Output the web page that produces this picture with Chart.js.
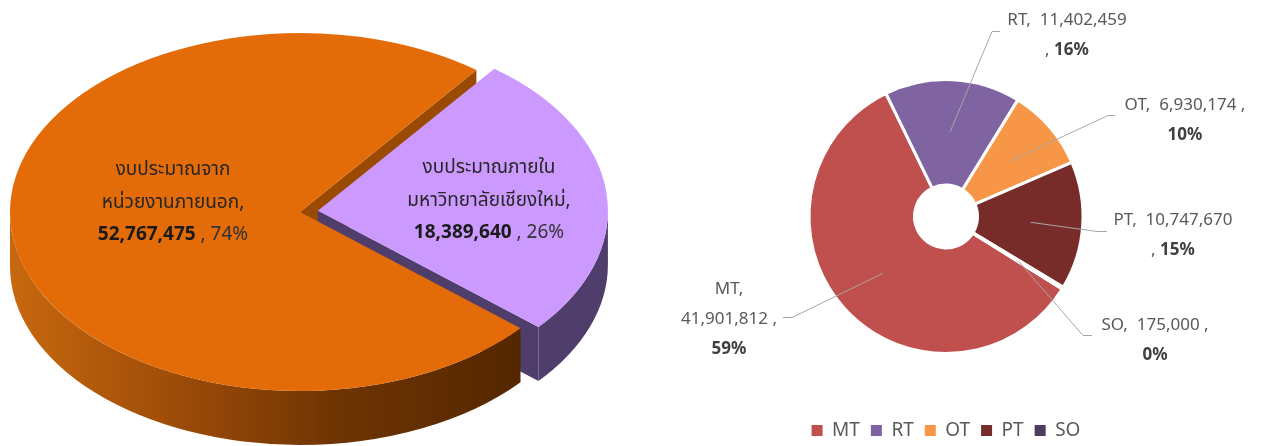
<!DOCTYPE html>
<html>
<head>
<meta charset="utf-8">
<script src="https://cdn.jsdelivr.net/npm/chart.js@4.4.1/dist/chart.umd.min.js"></script>
<style>
    html, body { margin: 0; padding: 0; background: #fff; }
    body { width: 1264px; height: 446px; position: relative; overflow: hidden; }
    #leftBox { position: absolute; left: 0; top: 0; width: 640px; height: 446px; }
    #rightBox { position: absolute; left: 640px; top: 0; width: 624px; height: 450px; }
</style>
</head>
<body>
<div id="leftBox"><canvas id="pieCanvas"></canvas></div>
<div id="rightBox"><canvas id="donutCanvas"></canvas></div>
<script>
//------------------------------------------Datos------------------------------------------------------------------

const budgetNames = [['งบประมาณจาก', 'หน่วยงานภายนอก'], ['งบประมาณภายใน', 'มหาวิทยาลัยเชียงใหม่']];
const budgetValues = [52767475, 18389640];
const budgetColors = ['#E36C09', '#CC99FF'];

const typeNames = ['MT', 'RT', 'OT', 'PT', 'SO'];
const typeValues = [41901812, 11402459, 6930174, 10747670, 175000];
const typeColors = ['#C0504D', '#8064A2', '#F79646', '#772C2A', '#4D3B62'];

//------------------------------------------Estilos------------------------------------------------------------------

const THAI_FONT = '"Noto Sans Thai", "Leelawadee UI", Tahoma, "Noto Sans", "DejaVu Sans", sans-serif';
const UI_FONT = '"Noto Sans", "Open Sans", sans-serif';

const TILT = 0.617;      // vertical squash of the 3d pie
const DEPTH = 54;        // height of the pie side in px
const wallColors = ['#9A4A02', '#4F3D6B'];
const budgetLabelPos = [{x: 173, y: 204}, {x: 489, y: 202}];

// label box of the doughnut, relative to center: text center, elbow, end of leader
const typeLabelPos = [
    {text: [-217, 103], elbow: [-154, 101], end: [-163, 101], mode: 'n|v|p'},
    {text: [121, -181], elbow: [46, -185], end: [54, -185], mode: 'nv|cp'},
    {text: [239, -96], elbow: [162, -101], end: [169, -101], mode: 'nvc|p'},
    {text: [227, 19], elbow: [151, 15], end: [161, 15], mode: 'nv|cp'},
    {text: [209, 124], elbow: [137, 119], end: [146, 119], mode: 'nvc|p'}
];

//------------------------------------------Funciones------------------------------------------------------------------

function fmt(n) {
    return n.toLocaleString('en-US');
}

function pct(values, i) {
    let total = values.reduce((a, b) => a + b, 0);
    return Math.round(values[i] / total * 100) + '%';
}

function squash(ctx, cx, cy) {
    ctx.translate(cx, cy);
    ctx.scale(1, TILT);
    ctx.translate(-cx, -cy);
}

function arcShift(arc) {
    let off = (arc.options.offset || 0) / 4;
    let mid = (arc.startAngle + arc.endAngle) / 2;
    return {x: Math.cos(mid) * off, y: Math.sin(mid) * off};
}

// parts of [a1,a2] that face the viewer (0..PI)
function frontRanges(a1, a2) {
    let out = [];
    for (let n = -2; n <= 2; n++) {
        let s = Math.max(a1, n * 2 * Math.PI);
        let e = Math.min(a2, n * 2 * Math.PI + Math.PI);
        if (e > s) out.push([s, e]);
    }
    return out;
}

// draw a line made of pieces, centered at x
function drawPieces(ctx, pieces, x, y, size, family) {
    let widths = pieces.map(p => {
        ctx.font = (p.bold ? 'bold ' : '') + size + 'px ' + family;
        return ctx.measureText(p.t).width;
    });
    let total = widths.reduce((a, b) => a + b, 0);
    let cx = x - total / 2;
    ctx.textAlign = 'left';
    ctx.textBaseline = 'middle';
    pieces.forEach((p, i) => {
        ctx.font = (p.bold ? 'bold ' : '') + size + 'px ' + family;
        ctx.fillStyle = p.color;
        ctx.fillText(p.t, cx, y);
        cx += widths[i];
    });
}

const pie3dPlugin = {
    id: 'pie3d',
    beforeDatasetsDraw(chart) {
        let ctx = chart.ctx;
        let arcs = chart.getDatasetMeta(0).data;
        let d = DEPTH / TILT;
        let cx = arcs[0].x, cy = arcs[0].y;
        ctx.save();
        squash(ctx, cx, cy);
        // cut faces first
        arcs.forEach((arc, i) => {
            let sh = arcShift(arc);
            let r = arc.outerRadius;
            [[arc.startAngle, -1], [arc.endAngle, 1]].forEach(([a, side]) => {
                if (side * Math.cos(a) <= 0) return;
                let x0 = arc.x + sh.x, y0 = arc.y + sh.y;
                let x1 = x0 + Math.cos(a) * r, y1 = y0 + Math.sin(a) * r;
                ctx.beginPath();
                ctx.moveTo(x0, y0);
                ctx.lineTo(x1, y1);
                ctx.lineTo(x1, y1 + d);
                ctx.lineTo(x0, y0 + d);
                ctx.closePath();
                ctx.fillStyle = wallColors[i];
                ctx.fill();
            });
        });
        // round side, purple first so orange sits in front
        for (let i = arcs.length - 1; i >= 0; i--) {
            let arc = arcs[i];
            let sh = arcShift(arc);
            let r = arc.outerRadius;
            let x0 = arc.x + sh.x, y0 = arc.y + sh.y;
            let fill = wallColors[i];
            if (i === 0) {
                fill = ctx.createLinearGradient(x0 - r, 0, x0 + r * 0.75, 0);
                fill.addColorStop(0, '#C8680E');
                fill.addColorStop(0.35, '#9A4A08');
                fill.addColorStop(0.65, '#6E3403');
                fill.addColorStop(1, '#552700');
            }
            frontRanges(arc.startAngle, arc.endAngle).forEach(([s, e]) => {
                ctx.beginPath();
                ctx.arc(x0, y0, r, s, e);
                ctx.lineTo(x0 + Math.cos(e) * r, y0 + Math.sin(e) * r + d);
                ctx.arc(x0, y0 + d, r, e, s, true);
                ctx.closePath();
                ctx.fillStyle = fill;
                ctx.fill();
            });
        }
        ctx.restore();
        // keep the squash for the top faces drawn by Chart.js
        ctx.save();
        squash(ctx, cx, cy);
    },
    afterDatasetsDraw(chart) {
        let ctx = chart.ctx;
        ctx.restore();
        ctx.save();
        budgetNames.forEach((name, i) => {
            let p = budgetLabelPos[i];
            drawPieces(ctx, [{t: name[0], color: '#262626'}], p.x, p.y - 33, 19, THAI_FONT);
            drawPieces(ctx, [{t: name[1] + ',', color: '#262626'}], p.x, p.y, 19, THAI_FONT);
            drawPieces(ctx, [
                {t: fmt(budgetValues[i]), bold: true, color: '#1a1a1a'},
                {t: ' , ' + pct(budgetValues, i), color: '#333333'}
            ], p.x, p.y + 32, 19, THAI_FONT);
        });
        ctx.restore();
    }
};

function typeLines(i) {
    let n = typeNames[i], v = fmt(typeValues[i]), p = pct(typeValues, i);
    let gray = '#595959', dark = '#404040';
    let mode = typeLabelPos[i].mode;
    if (mode === 'n|v|p') {
        return [[{t: n + ',', color: gray}], [{t: v + ' ,', color: gray}], [{t: p, bold: true, color: dark}]];
    }
    if (mode === 'nv|cp') {
        return [[{t: n + ',  ' + v, color: gray}], [{t: ', ', color: gray}, {t: p, bold: true, color: dark}]];
    }
    return [[{t: n + ',  ' + v + ' ,', color: gray}], [{t: p, bold: true, color: dark}]];
}

const donutLabelPlugin = {
    id: 'donutLabels',
    afterDatasetsDraw(chart) {
        let ctx = chart.ctx;
        let arcs = chart.getDatasetMeta(0).data;
        ctx.save();
        arcs.forEach((arc, i) => {
            let lp = typeLabelPos[i];
            let mid = (arc.startAngle + arc.endAngle) / 2;
            let r = arc.outerRadius * 0.62;
            ctx.beginPath();
            ctx.moveTo(arc.x + Math.cos(mid) * r, arc.y + Math.sin(mid) * r);
            ctx.lineTo(arc.x + lp.elbow[0], arc.y + lp.elbow[1]);
            ctx.lineTo(arc.x + lp.end[0], arc.y + lp.end[1]);
            ctx.strokeStyle = '#A6A6A6';
            ctx.lineWidth = 1;
            ctx.stroke();
            let lines = typeLines(i);
            let step = 30;
            let y0 = arc.y + lp.text[1] - (lines.length - 1) * step / 2;
            lines.forEach((ln, k) => {
                drawPieces(ctx, ln, arc.x + lp.text[0], y0 + k * step, 17, UI_FONT);
            });
        });
        ctx.restore();
    }
};

//------------------------------------------Graficos------------------------------------------------------------------

const pieChart = new Chart(document.getElementById('pieCanvas'), {
    type: 'pie',
    data: {
        labels: budgetNames,
        datasets: [{
            data: budgetValues,
            backgroundColor: budgetColors,
            borderWidth: 0,
            offset: [0, 72],
            radius: 290,
            clip: false
        }]
    },
    options: {
        responsive: true,
        maintainAspectRatio: false,
        animation: false,
        events: [],
        rotation: 130.5,
        layout: {padding: {left: 0, right: 40, top: 0, bottom: 22}},
        plugins: {legend: {display: false}, tooltip: {enabled: false}}
    },
    plugins: [pie3dPlugin]
});

const donutChart = new Chart(document.getElementById('donutCanvas'), {
    type: 'doughnut',
    data: {
        labels: typeNames,
        datasets: [{
            data: typeValues,
            backgroundColor: typeColors,
            borderColor: '#ffffff',
            borderWidth: 3,
            radius: 137,
            cutout: '23%',
            clip: false
        }]
    },
    options: {
        responsive: true,
        maintainAspectRatio: false,
        animation: false,
        events: [],
        rotation: 122,
        layout: {padding: {left: 0, right: 12, top: 23, bottom: 0}},
        plugins: {
            tooltip: {enabled: false},
            legend: {
                position: 'bottom',
                labels: {
                    boxWidth: 11,
                    boxHeight: 11,
                    padding: 11,
                    color: '#595959',
                    font: {family: UI_FONT, size: 19},
                    generateLabels(chart) {
                        let items = Chart.overrides.doughnut.plugins.legend.labels.generateLabels(chart);
                        items.forEach(it => { it.lineWidth = 0; it.strokeStyle = 'rgba(0,0,0,0)'; });
                        return items;
                    }
                }
            }
        }
    },
    plugins: [donutLabelPlugin]
});
</script>
</body>
</html>
